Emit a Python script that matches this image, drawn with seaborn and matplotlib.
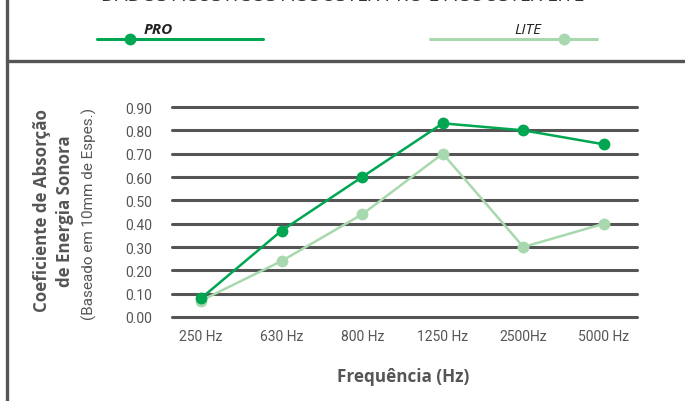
import numpy as np
import pandas as pd
import matplotlib
matplotlib.use("Agg")
import matplotlib.pyplot as plt
import seaborn as sns
from matplotlib.lines import Line2D

# ==============================
# DATA
# ==============================
freqs = ["250 Hz", "630 Hz", "800 Hz", "1250 Hz", "2500Hz", "5000 Hz"]
pro = [0.08, 0.37, 0.60, 0.83, 0.80, 0.74]
lite = [0.07, 0.24, 0.44, 0.70, 0.30, 0.40]
yticks = [0.0, 0.1, 0.2, 0.3, 0.4, 0.5, 0.6, 0.7, 0.8, 0.9]

PRO_C = "#00A651"
LITE_C = "#A8D8AD"
GRID_C = "#555555"
TEXT_C = "#555555"

sns.set_style("white")
plt.rcParams['font.family'] = ['Open Sans', 'DejaVu Sans']

df = pd.DataFrame({
    "freq": freqs * 2,
    "x": list(range(len(freqs))) * 2,
    "value": pro + lite,
    "serie": ["PRO"] * len(freqs) + ["LITE"] * len(freqs),
})

fig = plt.figure(figsize=(6.85, 4.02), dpi=100)
ax = fig.add_axes([172 / 685, 84 / 402, 465 / 685, 210 / 402])

# gridlines
for t in yticks:
    ax.axhline(t, color=GRID_C, lw=2.2, zorder=1, clip_on=False)

sns.lineplot(data=df, x="x", y="value", hue="serie",
             palette={"PRO": PRO_C, "LITE": LITE_C},
             hue_order=["LITE", "PRO"],
             marker="o", markersize=8.5, markeredgewidth=0, lw=1.8,
             legend=False, ax=ax, zorder=3)
for ln in ax.lines:
    ln.set_clip_on(False)

ax.set_xlim(-0.36, 5.41)
ax.set_ylim(0, 0.9)
ax.set_yticks(yticks)
ax.set_yticklabels([f"{t:.2f}" for t in yticks], family=['Roboto', 'DejaVu Sans'])
ax.set_xticks(range(len(freqs)))
ax.set_xticklabels(freqs, family=['Roboto', 'DejaVu Sans'])
ax.tick_params(axis='both', length=0, labelsize=10, labelcolor=TEXT_C)
ax.tick_params(axis='y', pad=14)
ax.tick_params(axis='x', pad=9)
for s in ax.spines.values():
    s.set_visible(False)
ax.set_xlabel("")
ax.set_ylabel("")

# axis titles
fig.text(403 / 685, 1 - 377 / 402, "Frequência (Hz)", ha="center", va="center",
         fontsize=12.3, fontweight="bold", color=TEXT_C)
fig.text(42 / 685, 1 - 211 / 402, "Coeficiente de Absorção", rotation=90,
         ha="center", va="center", fontsize=12.2, fontweight="bold", color=TEXT_C)
fig.text(65 / 685, 1 - 211 / 402, "de Energia Sonora", rotation=90,
         ha="center", va="center", fontsize=12.2, fontweight="bold", color=TEXT_C)
fig.text(89 / 685, 1 - 214 / 402, "(Baseado em 10mm de Espes.)", rotation=90,
         ha="center", va="center", fontsize=11, color=TEXT_C,
         family=['Roboto', 'DejaVu Sans'])

# frame lines
fig.add_artist(Line2D([7 / 685, 7 / 685], [0, 1], color=GRID_C, lw=2.4))
fig.add_artist(Line2D([7 / 685, 1], [1 - 62 / 402, 1 - 62 / 402], color=GRID_C, lw=2.4))

# legend at top
fig.add_artist(Line2D([97 / 685, 263 / 685], [1 - 40 / 402] * 2, color=PRO_C, lw=2.2))
fig.add_artist(Line2D([130 / 685], [1 - 40 / 402], color=PRO_C, marker="o",
                      markersize=8.5, markeredgewidth=0))
fig.text(144 / 685, 1 - 30 / 402, "PRO", ha="left", va="center", fontsize=11,
         fontweight="bold", fontstyle="italic", color="#222222")
fig.add_artist(Line2D([430 / 685, 597 / 685], [1 - 40 / 402] * 2, color=LITE_C, lw=2.2))
fig.add_artist(Line2D([564 / 685], [1 - 40 / 402], color=LITE_C, marker="o",
                      markersize=8.5, markeredgewidth=0))
fig.text(514 / 685, 1 - 30 / 402, "LITE", ha="left", va="center", fontsize=11,
         fontstyle="italic", color="#222222")

# cut-off title at top (the reference shows only its lower edge)
fig.text(343 / 685, 1 + 4 / 402, "DADOS ACÚSTICOS ACOUSTEX PRO E ACOUSTEX LITE",
         ha="center", va="center", fontsize=14, color="#333333")

fig.savefig("out.png", dpi=100)
